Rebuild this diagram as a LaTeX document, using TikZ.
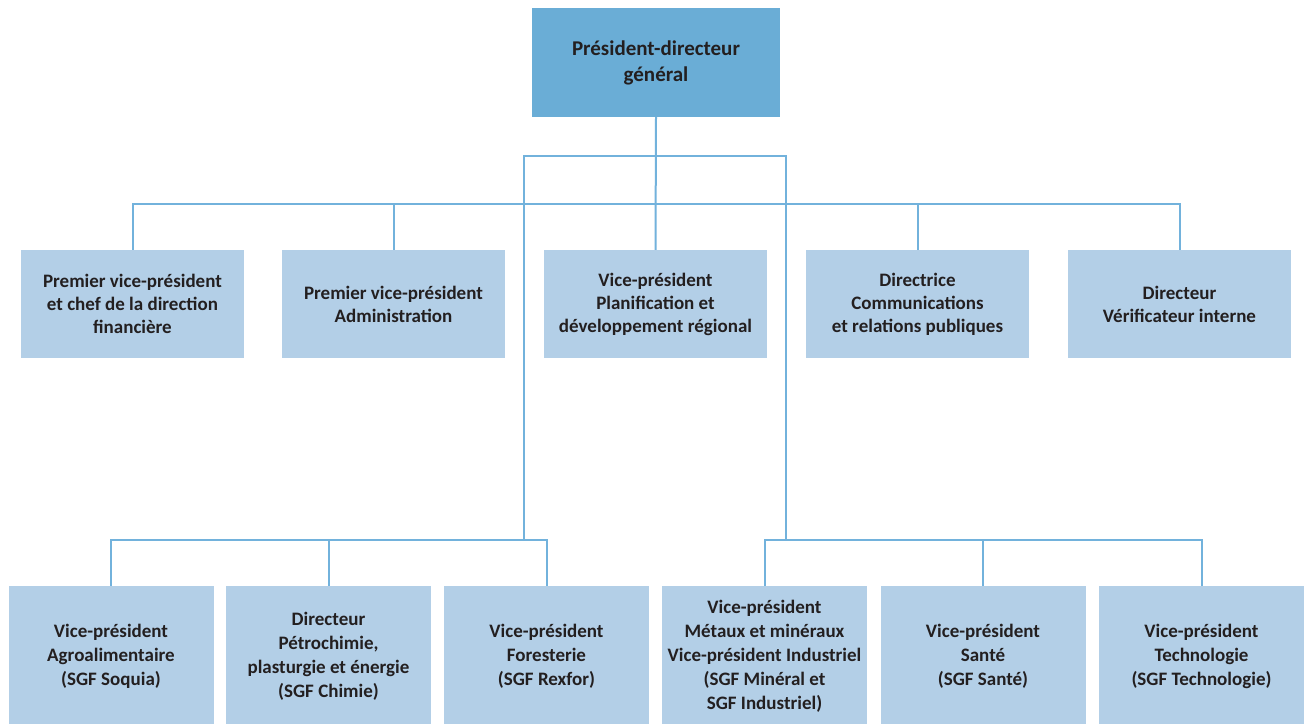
\documentclass[tikz,border=0pt]{standalone}
\usepackage{fontspec}
\setmainfont{Carlito}
\definecolor{topblue}{HTML}{6AADD6}
\definecolor{boxblue}{HTML}{B3CFE7}
\definecolor{linkblue}{HTML}{72B2DC}
\definecolor{txt}{HTML}{231F20}
\begin{document}
\begin{tikzpicture}[x=1pt,y=-1pt,
  base/.style={rectangle, inner sep=0pt, align=center, text=txt},
  topbox/.style={base, fill=topblue, minimum width=248pt, minimum height=109pt, font=\fontsize{21}{26}\selectfont\bfseries},
  midbox/.style={base, fill=boxblue, minimum width=223pt, minimum height=108pt, font=\fontsize{19}{23}\selectfont\bfseries},
  botbox/.style={base, fill=boxblue, minimum width=205pt, minimum height=140pt, font=\fontsize{19}{24}\selectfont\bfseries},
  link/.style={draw=linkblue, line width=2pt}]
\clip (0,0) rectangle (1304,723);
\fill[white] (0,0) rectangle (1304,723);

\node[topbox] (top) at (656,62.5) {Président-directeur\\général};

\node[midbox] (m1) at (132.5,304) {Premier vice-président\\et chef de la direction\\financière};
\node[midbox] (m2) at (393.5,304) {Premier vice-président\\Administration};
\node[midbox] (m3) at (655.5,304) {Vice-président\\Planification et\\développement régional};
\node[midbox] (m4) at (917.5,304) {Directrice\\Communications\\et relations publiques};
\node[midbox] (m5) at (1179.5,304) {Directeur\\Vérificateur interne};

\node[botbox] (b1) at (111,656) {Vice-président\\Agroalimentaire\\(SGF Soquia)};
\node[botbox] (b2) at (328.5,656) {Directeur\\Pétrochimie,\\plasturgie et énergie\\(SGF Chimie)};
\node[botbox] (b3) at (546.5,656) {Vice-président\\Foresterie\\(SGF Rexfor)};
\node[botbox] (b4) at (764.5,656) {Vice-président\\Métaux et minéraux\\Vice-président Industriel\\(SGF Minéral et\\SGF Industriel)};
\node[botbox] (b5) at (983,656) {Vice-président\\Santé\\(SGF Santé)};
\node[botbox] (b6) at (1201.5,656) {Vice-président\\Technologie\\(SGF Technologie)};

\coordinate (midbus) at (656,204);
\coordinate (hubL) at (524,156);
\coordinate (hubR) at (786,156);
\coordinate (lowbus) at (656,540);

% top to middle row
\draw[link] (top.south) -- (m3.north);
\draw[link] (m1.north) -- (m1.north |- midbus) -- (m5.north |- midbus) -- (m5.north);
\draw[link] (m2.north) -- (m2.north |- midbus);
\draw[link] (m4.north) -- (m4.north |- midbus);

% branch to subsidiaries
\draw[link] (hubL |- lowbus) -- (hubL) -- (hubR) -- (hubR |- lowbus);

% left group
\draw[link] (b1.north) -- (b1.north |- lowbus) -- (b3.north |- lowbus) -- (b3.north);
\draw[link] (b2.north) -- (b2.north |- lowbus);

% right group
\draw[link] (b4.north) -- (b4.north |- lowbus) -- (b6.north |- lowbus) -- (b6.north);
\draw[link] (b5.north) -- (b5.north |- lowbus);
\end{tikzpicture}
\end{document}
